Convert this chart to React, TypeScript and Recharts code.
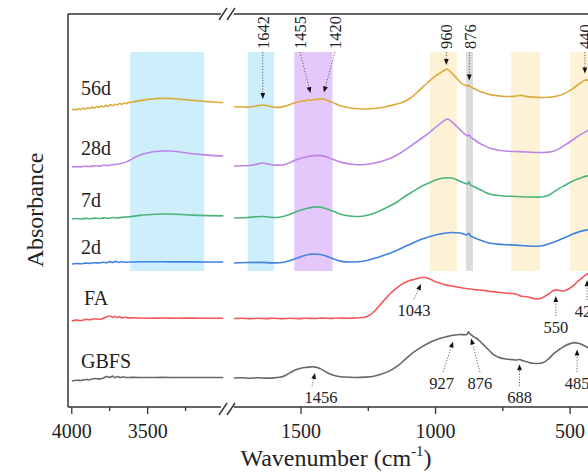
import { LineChart, Line, XAxis, YAxis, ReferenceArea, ReferenceLine } from 'recharts';

type Pt = [number, number];

// wavenumber (cm-1), offset absorbance (a.u.)
const s56dLeft: Pt[] = [
  [4000, 3.022], [3985, 3.03], [3970, 3.024], [3955, 3.036], [3940, 3.028], [3925, 3.04], [3910, 3.034],
  [3895, 3.046], [3880, 3.038], [3865, 3.052], [3850, 3.044], [3835, 3.058], [3820, 3.05], [3805, 3.064],
  [3790, 3.055], [3775, 3.07], [3760, 3.06], [3745, 3.078], [3730, 3.066], [3715, 3.082], [3700, 3.074],
  [3685, 3.09], [3670, 3.08], [3655, 3.094], [3640, 3.088], [3625, 3.1], [3600, 3.104], [3560, 3.116],
  [3520, 3.126], [3480, 3.134], [3440, 3.139], [3400, 3.141], [3360, 3.141], [3320, 3.138], [3280, 3.133],
  [3240, 3.127], [3200, 3.121], [3150, 3.114], [3100, 3.108], [3050, 3.102], [3000, 3.097],
];
const s56dRight: Pt[] = [
  [1750, 3.053], [1720, 3.056], [1700, 3.052], [1670, 3.062], [1642, 3.074], [1620, 3.064], [1600, 3.052],
  [1580, 3.05], [1560, 3.062], [1540, 3.08], [1520, 3.1], [1500, 3.112], [1480, 3.12], [1470, 3.128],
  [1460, 3.122], [1450, 3.132], [1440, 3.128], [1430, 3.137], [1420, 3.134], [1410, 3.13], [1400, 3.12],
  [1380, 3.098], [1360, 3.072], [1330, 3.05], [1300, 3.038], [1270, 3.033], [1240, 3.036], [1210, 3.043],
  [1180, 3.06], [1150, 3.08], [1120, 3.105], [1090, 3.15], [1060, 3.225], [1030, 3.3], [1000, 3.37],
  [980, 3.405], [965, 3.43], [958, 3.44], [948, 3.42], [935, 3.385], [920, 3.34], [905, 3.3], [890, 3.275],
  [880, 3.268], [876, 3.278], [872, 3.262], [860, 3.245], [840, 3.218], [820, 3.198], [800, 3.182],
  [770, 3.168], [740, 3.16], [710, 3.162], [690, 3.168], [680, 3.172], [670, 3.164], [640, 3.155],
  [610, 3.15], [580, 3.152], [560, 3.158], [540, 3.17], [520, 3.192], [500, 3.222], [480, 3.262],
  [460, 3.3], [448, 3.322], [440, 3.33], [430, 3.322], [415, 3.305], [400, 3.285],
];

const s28dLeft: Pt[] = [
  [4000, 2.443], [3970, 2.446], [3940, 2.444], [3910, 2.45], [3880, 2.448], [3850, 2.455], [3820, 2.452],
  [3790, 2.46], [3760, 2.458], [3730, 2.466], [3700, 2.47], [3670, 2.48], [3640, 2.495], [3610, 2.518],
  [3580, 2.545], [3550, 2.565], [3500, 2.586], [3450, 2.6], [3400, 2.606], [3350, 2.605], [3300, 2.598],
  [3240, 2.586], [3180, 2.575], [3120, 2.566], [3060, 2.559], [3000, 2.555],
];
const s28dRight: Pt[] = [
  [1750, 2.453], [1720, 2.456], [1700, 2.455], [1670, 2.468], [1642, 2.483], [1620, 2.472], [1600, 2.462],
  [1580, 2.462], [1560, 2.468], [1540, 2.488], [1520, 2.514], [1500, 2.532], [1480, 2.545], [1460, 2.556],
  [1440, 2.561], [1420, 2.556], [1400, 2.54], [1380, 2.518], [1350, 2.49], [1320, 2.474], [1290, 2.466],
  [1260, 2.468], [1230, 2.48], [1200, 2.502], [1170, 2.53], [1140, 2.57], [1110, 2.622], [1080, 2.68],
  [1050, 2.738], [1020, 2.8], [1000, 2.845], [980, 2.89], [965, 2.92], [955, 2.932], [945, 2.915],
  [930, 2.88], [910, 2.825], [890, 2.775], [880, 2.76], [876, 2.77], [870, 2.748], [855, 2.72], [840, 2.69],
  [820, 2.66], [800, 2.636], [770, 2.615], [740, 2.605], [700, 2.6], [660, 2.596], [620, 2.59], [590, 2.592],
  [560, 2.606], [540, 2.63], [520, 2.665], [500, 2.7], [480, 2.738], [460, 2.775], [440, 2.805],
  [420, 2.835], [400, 2.85],
];

const s7dLeft: Pt[] = [
  [4000, 1.913], [3970, 1.918], [3940, 1.914], [3910, 1.92], [3880, 1.916], [3850, 1.922], [3820, 1.919],
  [3790, 1.925], [3760, 1.921], [3730, 1.928], [3700, 1.924], [3670, 1.93], [3640, 1.934], [3600, 1.94],
  [3550, 1.95], [3500, 1.957], [3450, 1.962], [3400, 1.964], [3350, 1.964], [3300, 1.961], [3250, 1.957],
  [3200, 1.953], [3100, 1.948], [3000, 1.945],
];
const s7dRight: Pt[] = [
  [1750, 1.924], [1700, 1.929], [1670, 1.935], [1642, 1.939], [1620, 1.934], [1600, 1.929], [1580, 1.932],
  [1560, 1.944], [1540, 1.962], [1520, 1.985], [1500, 2.004], [1480, 2.02], [1460, 2.032], [1445, 2.037],
  [1430, 2.034], [1415, 2.025], [1400, 2.012], [1380, 1.992], [1350, 1.96], [1320, 1.944], [1300, 1.939],
  [1270, 1.942], [1250, 1.954], [1220, 1.98], [1200, 2.005], [1170, 2.045], [1140, 2.092], [1110, 2.15],
  [1080, 2.2], [1050, 2.249], [1020, 2.285], [1000, 2.31], [975, 2.328], [955, 2.333], [935, 2.328],
  [915, 2.305], [895, 2.282], [882, 2.27], [876, 2.292], [871, 2.262], [855, 2.24], [840, 2.219],
  [820, 2.192], [800, 2.168], [775, 2.155], [750, 2.148], [700, 2.143], [650, 2.137], [620, 2.136],
  [600, 2.14], [580, 2.155], [560, 2.19], [540, 2.225], [520, 2.255], [500, 2.285], [480, 2.312],
  [460, 2.332], [440, 2.35], [420, 2.362], [400, 2.372],
];

const s2dLeft: Pt[] = [
  [4000, 1.455], [3970, 1.46], [3940, 1.458], [3910, 1.464], [3880, 1.462], [3850, 1.468], [3820, 1.466],
  [3790, 1.474], [3770, 1.468], [3750, 1.48], [3730, 1.47], [3710, 1.482], [3690, 1.472], [3670, 1.478],
  [3640, 1.474], [3600, 1.476], [3500, 1.478], [3400, 1.478], [3300, 1.477], [3200, 1.477], [3100, 1.476],
  [3000, 1.476],
];
const s2dRight: Pt[] = [
  [1750, 1.466], [1700, 1.47], [1650, 1.472], [1600, 1.467], [1580, 1.468], [1560, 1.476], [1540, 1.492],
  [1520, 1.511], [1500, 1.53], [1480, 1.547], [1460, 1.556], [1450, 1.558], [1430, 1.553], [1410, 1.54],
  [1390, 1.518], [1370, 1.498], [1350, 1.482], [1320, 1.476], [1300, 1.476], [1270, 1.484], [1250, 1.496],
  [1220, 1.518], [1200, 1.537], [1170, 1.565], [1140, 1.598], [1110, 1.638], [1080, 1.675], [1050, 1.71],
  [1020, 1.735], [1000, 1.751], [980, 1.762], [960, 1.771], [940, 1.776], [920, 1.774], [900, 1.765],
  [884, 1.752], [876, 1.768], [870, 1.742], [855, 1.722], [840, 1.705], [820, 1.685], [800, 1.669],
  [770, 1.658], [740, 1.652], [700, 1.648], [660, 1.64], [630, 1.636], [610, 1.638], [590, 1.65],
  [570, 1.668], [550, 1.69], [530, 1.712], [510, 1.735], [490, 1.76], [470, 1.78], [450, 1.795],
  [430, 1.807], [400, 1.817],
];

const sFALeft: Pt[] = [
  [4000, 0.875], [3970, 0.884], [3940, 0.88], [3910, 0.892], [3880, 0.888], [3850, 0.898], [3820, 0.892],
  [3790, 0.905], [3770, 0.918], [3750, 0.926], [3730, 0.912], [3715, 0.924], [3700, 0.908], [3685, 0.92],
  [3670, 0.906], [3650, 0.914], [3620, 0.905], [3600, 0.908], [3500, 0.904], [3400, 0.906], [3300, 0.904],
  [3200, 0.905], [3100, 0.903], [3000, 0.904],
];
const sFARight: Pt[] = [
  [1750, 0.901], [1720, 0.904], [1690, 0.899], [1660, 0.903], [1630, 0.9], [1600, 0.904], [1570, 0.899],
  [1540, 0.903], [1510, 0.9], [1480, 0.904], [1450, 0.901], [1420, 0.905], [1390, 0.902], [1360, 0.906],
  [1330, 0.903], [1300, 0.906], [1280, 0.908], [1260, 0.916], [1245, 0.935], [1230, 0.967], [1215, 1.01],
  [1200, 1.059], [1185, 1.105], [1170, 1.15], [1155, 1.188], [1140, 1.221], [1125, 1.25], [1110, 1.272],
  [1095, 1.287], [1080, 1.298], [1065, 1.31], [1050, 1.318], [1040, 1.32], [1030, 1.312], [1015, 1.295],
  [1000, 1.275], [980, 1.258], [960, 1.243], [940, 1.232], [920, 1.222], [900, 1.212], [880, 1.203],
  [860, 1.196], [840, 1.191], [820, 1.186], [800, 1.178], [780, 1.172], [760, 1.165], [740, 1.16],
  [720, 1.156], [700, 1.148], [680, 1.128], [660, 1.122], [640, 1.108], [625, 1.1], [610, 1.105],
  [595, 1.125], [580, 1.15], [565, 1.18], [550, 1.192], [540, 1.185], [525, 1.181], [510, 1.195],
  [500, 1.211], [485, 1.24], [474, 1.272], [462, 1.3], [452, 1.323], [440, 1.348], [430, 1.356],
  [415, 1.35], [400, 1.34],
];

const sGBFSLeft: Pt[] = [
  [4000, 0.265], [3970, 0.272], [3940, 0.27], [3910, 0.28], [3880, 0.278], [3850, 0.29], [3820, 0.286],
  [3790, 0.296], [3770, 0.31], [3750, 0.302], [3730, 0.314], [3715, 0.298], [3700, 0.31], [3680, 0.3],
  [3660, 0.308], [3640, 0.3], [3600, 0.302], [3500, 0.3], [3400, 0.302], [3300, 0.3], [3200, 0.301],
  [3100, 0.3], [3000, 0.3],
];
const sGBFSRight: Pt[] = [
  [1750, 0.295], [1720, 0.298], [1690, 0.293], [1660, 0.297], [1630, 0.294], [1600, 0.296], [1580, 0.302],
  [1560, 0.318], [1540, 0.35], [1520, 0.378], [1500, 0.395], [1480, 0.403], [1465, 0.408], [1456, 0.41],
  [1445, 0.405], [1430, 0.392], [1415, 0.37], [1400, 0.346], [1385, 0.328], [1370, 0.316], [1340, 0.305],
  [1300, 0.3], [1260, 0.304], [1230, 0.313], [1200, 0.335], [1170, 0.368], [1140, 0.42], [1110, 0.492],
  [1080, 0.56], [1050, 0.615], [1020, 0.66], [990, 0.693], [960, 0.715], [935, 0.73], [910, 0.738],
  [890, 0.735], [882, 0.74], [878, 0.765], [873, 0.748], [862, 0.722], [850, 0.702], [840, 0.682],
  [825, 0.642], [810, 0.601], [795, 0.56], [780, 0.525], [760, 0.5], [740, 0.489], [715, 0.482],
  [700, 0.478], [688, 0.484], [675, 0.47], [660, 0.46], [640, 0.445], [620, 0.443], [600, 0.452],
  [580, 0.49], [560, 0.545], [540, 0.585], [520, 0.621], [500, 0.645], [485, 0.655], [470, 0.648],
  [455, 0.634], [440, 0.613], [420, 0.585], [400, 0.56],
];

const seriesNames = ['56d', '28d', '7d', '2d', 'FA', 'GBFS'];
const seriesColors = ['#dba93c', '#bb84ea', '#4db37a', '#3f82e2', '#f2575c', '#676767'];
const leftSpectra = [s56dLeft, s28dLeft, s7dLeft, s2dLeft, sFALeft, sGBFSLeft];
const rightSpectra = [s56dRight, s28dRight, s7dRight, s2dRight, sFARight, sGBFSRight];

const leftTicks = [4000, 3750, 3500, 3250];
const leftLabelled = [4000, 3500];
const rightTicks = [1500, 1250, 1000, 750, 500];
const rightLabelled = [1500, 1000, 500];

const bandTop = 3.613;
const bandBottom = 1.384;
const bandsLeft = [{ from: 3127, to: 3615, color: '#cdeefb' }];
const bandsRight = [
  { from: 1600, to: 1698, color: '#cdeefb' },
  { from: 1383, to: 1525, color: '#e4c8fc' },
  { from: 920, to: 1021, color: '#fdf2d5' },
  { from: 861, to: 887, color: '#dcdcdc' },
  { from: 612, to: 720, color: '#fdf2d5' },
  { from: 400, to: 500, color: '#fdf2d5' },
];

type Ann = { text: string; series: number; fromWn: number; fromA: number; tipWn: number; gap: number; top: boolean; dx?: number };
const annotations: Ann[] = [
  { text: '1642', series: 0, fromWn: 1642, fromA: 3.613, tipWn: 1642, gap: 0.06, top: true },
  { text: '1455', series: 0, fromWn: 1504, fromA: 3.613, tipWn: 1465, gap: 0.07, top: true },
  { text: '1420', series: 0, fromWn: 1374, fromA: 3.613, tipWn: 1415, gap: 0.07, top: true },
  { text: '960', series: 0, fromWn: 960, fromA: 3.613, tipWn: 960, gap: 0.045, top: true },
  { text: '876', series: 0, fromWn: 873, fromA: 3.613, tipWn: 875, gap: 0.05, top: true },
  { text: '440', series: 0, fromWn: 445, fromA: 3.613, tipWn: 445, gap: 0.07, top: true },
  { text: '1043', series: 4, fromWn: 1080, fromA: 1.099, tipWn: 1054, gap: 0.065, top: false },
  { text: '550', series: 4, fromWn: 553, fromA: 0.926, tipWn: 553, gap: 0.06, top: false },
  { text: '425', series: 4, fromWn: 437, fromA: 1.089, tipWn: 437, gap: 0.06, top: false },
  { text: '1456', series: 5, fromWn: 1459, fromA: 0.214, tipWn: 1448, gap: 0.06, top: false, dx: 9 },
  { text: '927', series: 5, fromWn: 972, fromA: 0.356, tipWn: 935, gap: 0.065, top: false, dx: -1.5 },
  { text: '876', series: 5, fromWn: 835, fromA: 0.356, tipWn: 868, gap: 0.04, top: false },
  { text: '688', series: 5, fromWn: 688, fromA: 0.214, tipWn: 688, gap: 0.05, top: false },
  { text: '485', series: 5, fromWn: 474, fromA: 0.356, tipWn: 474, gap: 0.065, top: false },
];

const labelPos = [
  { x: 81, y: 95 }, { x: 81, y: 155 }, { x: 81, y: 207 }, { x: 81, y: 254 }, { x: 84, y: 305 }, { x: 81, y: 368 },
];

const FONT = "'Liberation Serif', 'Times New Roman', serif";
const AXIS = '#333';

const rows = (pts: Pt[]) => pts.map(([wn, a]) => ({ wn, a }));

// curve value at a wavenumber, used to put arrow tips just off a peak
const valueAt = (pts: Pt[], wn: number) => {
  for (let i = 0; i < pts.length - 1; i++) {
    const [w1, a1] = pts[i];
    const [w2, a2] = pts[i + 1];
    if (wn <= w1 && wn >= w2) return a1 + ((a2 - a1) * (w1 - wn)) / (w1 - w2);
  }
  return pts[pts.length - 1][1];
};

const makeTick = (labelled: number[]) => (props: any) => {
  const { x, y, payload } = props;
  const major = labelled.includes(payload.value);
  return (
    <g>
      <line x1={x} y1={y} x2={x} y2={y + (major ? 7 : 4)} stroke={AXIS} strokeWidth={1.3} />
      {major && (
        <text x={x} y={y + 31} textAnchor="middle" fontSize={20} fill="#222" fontFamily={FONT}>
          {payload.value}
        </text>
      )}
    </g>
  );
};

const arrowShape = (ann: Ann) => (p: any) => {
  const { x1, y1, x2, y2 } = p;
  const dx = x2 - x1;
  const dy = y2 - y1;
  const len = Math.hypot(dx, dy) || 1;
  const ux = dx / len;
  const uy = dy / len;
  const bx = x2 - ux * 6;
  const by = y2 - uy * 6;
  const head = `${x2},${y2} ${bx - uy * 2.4},${by + ux * 2.4} ${bx + uy * 2.4},${by - ux * 2.4}`;
  return (
    <g>
      <line x1={x1} y1={y1} x2={bx} y2={by} stroke="#666" strokeWidth={1} strokeDasharray="1.2 1.6" />
      <polygon points={head} fill="#111" />
      {ann.top ? (
        <text
          x={x1}
          y={y1 - 3}
          dy="0.35em"
          transform={`rotate(-90 ${x1} ${y1 - 3})`}
          fontSize={16.5}
          fill="#222"
          fontFamily={FONT}
        >
          {ann.text}
        </text>
      ) : (
        <text x={x1 + (ann.dx ?? 0)} y={y1 + 17} textAnchor="middle" fontSize={16.5} fill="#222" fontFamily={FONT}>
          {ann.text}
        </text>
      )}
    </g>
  );
};

function Segment({
  spectra, bands, domain, ticks, labelled, width, left, right, withYAxis, notes,
}: {
  spectra: Pt[][]; bands: { from: number; to: number; color: string }[]; domain: [number, number];
  ticks: number[]; labelled: number[]; width: number; left: number; right: number; withYAxis: boolean; notes: Ann[];
}) {
  return (
    <div style={{ position: 'absolute', left: 0, top: 0 }}>
      <LineChart width={width} height={472} margin={{ top: 13, right, bottom: 0, left }}>
        <XAxis
          dataKey="wn"
          type="number"
          domain={domain}
          reversed
          allowDataOverflow
          ticks={ticks}
          interval={0}
          tick={makeTick(labelled)}
          tickLine={false}
          tickSize={0}
          tickMargin={0}
          height={65}
          axisLine={{ stroke: AXIS, strokeWidth: 1.5 }}
        />
        <XAxis
          xAxisId="top"
          orientation="top"
          dataKey="wn"
          type="number"
          domain={domain}
          reversed
          allowDataOverflow
          tick={false}
          tickLine={false}
          height={1}
          axisLine={{ stroke: AXIS, strokeWidth: 1.5 }}
        />
        {withYAxis ? (
          <YAxis
            domain={[0, 4]}
            width={1}
            tick={false}
            tickLine={false}
            axisLine={{ stroke: AXIS, strokeWidth: 1.5 }}
          />
        ) : (
          <YAxis domain={[0, 4]} hide />
        )}
        {bands.map((b, i) => (
          <ReferenceArea
            key={`band-${i}`}
            x1={b.to}
            x2={b.from}
            y1={bandBottom}
            y2={bandTop}
            fill={b.color}
            fillOpacity={1}
            stroke="none"
            ifOverflow="hidden"
          />
        ))}
        {spectra.map((pts, i) => (
          <Line
            key={seriesNames[i]}
            data={rows(pts)}
            dataKey="a"
            name={seriesNames[i]}
            type="monotone"
            stroke={seriesColors[i]}
            strokeWidth={1.6}
            dot={false}
            isAnimationActive={false}
          />
        ))}
        {notes.map((n, i) => (
          <ReferenceLine
            key={`note-${i}`}
            segment={[
              { x: n.fromWn, y: n.fromA },
              {
                x: n.tipWn,
                y: valueAt(rightSpectra[n.series], n.tipWn) + (n.top ? n.gap : -n.gap),
              },
            ]}
            ifOverflow="visible"
            shape={arrowShape(n)}
          />
        ))}
      </LineChart>
    </div>
  );
}

export default function App() {
  return (
    <div
      style={{
        position: 'fixed',
        left: 0,
        top: 0,
        width: 588,
        height: 472,
        overflow: 'hidden',
        background: '#fff',
        fontFamily: FONT,
      }}
    >
      <Segment
        spectra={leftSpectra}
        bands={bandsLeft}
        domain={[3000, 4025]}
        ticks={leftTicks}
        labelled={leftLabelled}
        width={240}
        left={67}
        right={16.5}
        withYAxis
        notes={[]}
      />
      <Segment
        spectra={rightSpectra}
        bands={bandsRight}
        domain={[400, 1750]}
        ticks={rightTicks}
        labelled={rightLabelled}
        width={640}
        left={233.75}
        right={43}
        withYAxis={false}
        notes={annotations}
      />
      <svg width={588} height={472} style={{ position: 'absolute', left: 0, top: 0, pointerEvents: 'none' }}>
        {/* axis breaks */}
        <rect x={221} y={404} width={12} height={6} fill="#fff" />
        <rect x={221} y={11} width={12} height={6} fill="#fff" />
        <line x1={219} y1={415} x2={227} y2={403} stroke={AXIS} strokeWidth={1.4} />
        <line x1={227} y1={415} x2={235} y2={403} stroke={AXIS} strokeWidth={1.4} />
        <line x1={219} y1={20} x2={227} y2={8} stroke={AXIS} strokeWidth={1.4} />
        <line x1={227} y1={20} x2={235} y2={8} stroke={AXIS} strokeWidth={1.4} />
        {seriesNames.map((n, i) => (
          <text key={n} x={labelPos[i].x} y={labelPos[i].y} fontSize={20} fill="#222" fontFamily={FONT}>
            {n}
          </text>
        ))}
        <text
          x={35}
          y={210}
          dy="0.35em"
          textAnchor="middle"
          transform="rotate(-90 35 210)"
          fontSize={24}
          fill="#222"
          fontFamily={FONT}
        >
          Absorbance
        </text>
        <text x={336} y={466} textAnchor="middle" fontSize={24} fill="#222" fontFamily={FONT}>
          Wavenumber (cm
          <tspan fontSize={15} dy={-10}>-1</tspan>
          <tspan dy={10}>)</tspan>
        </text>
      </svg>
    </div>
  );
}
